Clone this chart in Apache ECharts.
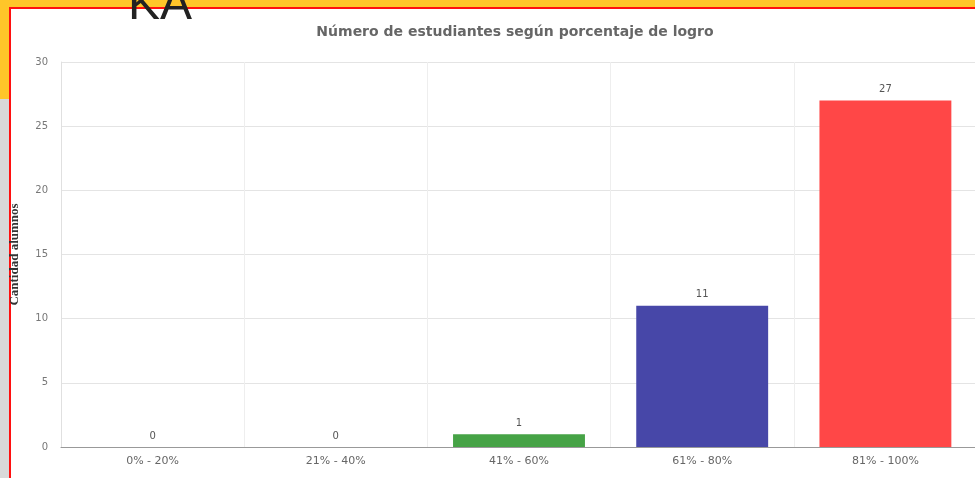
<!DOCTYPE html>
<html>
<head>
<meta charset="utf-8">
<script src="https://cdn.jsdelivr.net/npm/echarts@6/dist/echarts.min.js"></script>
<style>
  html, body { margin: 0; padding: 0; width: 975px; height: 478px; overflow: hidden; background: #d9d9d9; }
  #topband { position: absolute; left: 0; top: 0; width: 975px; height: 7px; background: #FFC629; }
  #sideband { position: absolute; left: 0; top: 0; width: 9px; height: 99px; background: #FFC629; }
  #panel { position: absolute; left: 9px; top: 7px; width: 980px; height: 480px; background: #fff; border-left: 2px solid #ff1010; border-top: 2px solid #ff1010; }
  #chart { position: absolute; left: 0; top: 0; width: 1000px; height: 478px; }
  #ka { position: absolute; left: 128px; top: -21px; font-family: "Liberation Sans", Arial, sans-serif; font-size: 48px; color: #222; line-height: 48px; }
</style>
</head>
<body>
<div id="topband"></div>
<div id="sideband"></div>
<div id="panel"></div>
<div id="chart"></div>
<div id="ka">KA</div>
<script>
const categories = ["0% - 20%", "21% - 40%", "41% - 60%", "61% - 80%", "81% - 100%"];
const values = [0, 0, 1, 11, 27];
const barColors = ["#4CAF50", "#4CAF50", "#46A346", "#4747A8", "#FF4747"];
const titleText = "Número de estudiantes según porcentaje de logro";
const yAxisName = "Cantidad alumnos";

const chart = echarts.init(document.getElementById('chart'));
chart.setOption({
  animation: false,
  title: {
    text: titleText,
    left: 510, top: 20,
    textAlign: 'center',
    textStyle: { fontFamily: 'DejaVu Sans, sans-serif', fontSize: 14, fontWeight: 'bold', color: '#666' }
  },
  grid: { left: 60, top: 62, width: 917, height: 385 },
  xAxis: {
    type: 'category',
    data: categories,
    axisLine: { lineStyle: { color: '#999', width: 1 } },
    axisTick: { show: false },
    axisLabel: { color: '#666', fontSize: 11, fontFamily: 'DejaVu Sans, sans-serif', margin: 9 },
    splitLine: { show: true, lineStyle: { color: '#eeeeee' } }
  },
  yAxis: {
    type: 'value',
    min: 0, max: 30, interval: 5,
    name: yAxisName,
    nameLocation: 'middle',
    nameGap: 40,
    nameTextStyle: { color: '#333', fontSize: 13, fontWeight: 'bold', fontFamily: 'Liberation Serif, serif' },
    axisLine: { show: true, lineStyle: { color: '#e0e0e0' } },
    axisTick: { show: false },
    axisLabel: { color: '#777', fontSize: 10, fontFamily: 'DejaVu Sans, sans-serif', margin: 13 },
    splitLine: { show: true, lineStyle: { color: '#e4e4e4' } }
  },
  series: [{
    type: 'bar',
    data: values.map((v, i) => ({ value: v, itemStyle: { color: barColors[i] } })),
    barCategoryGap: '28%',
    label: { show: true, position: 'top', color: '#555', fontSize: 10, fontFamily: 'DejaVu Sans, sans-serif', distance: 6 }
  }]
});
</script>
</body>
</html>
